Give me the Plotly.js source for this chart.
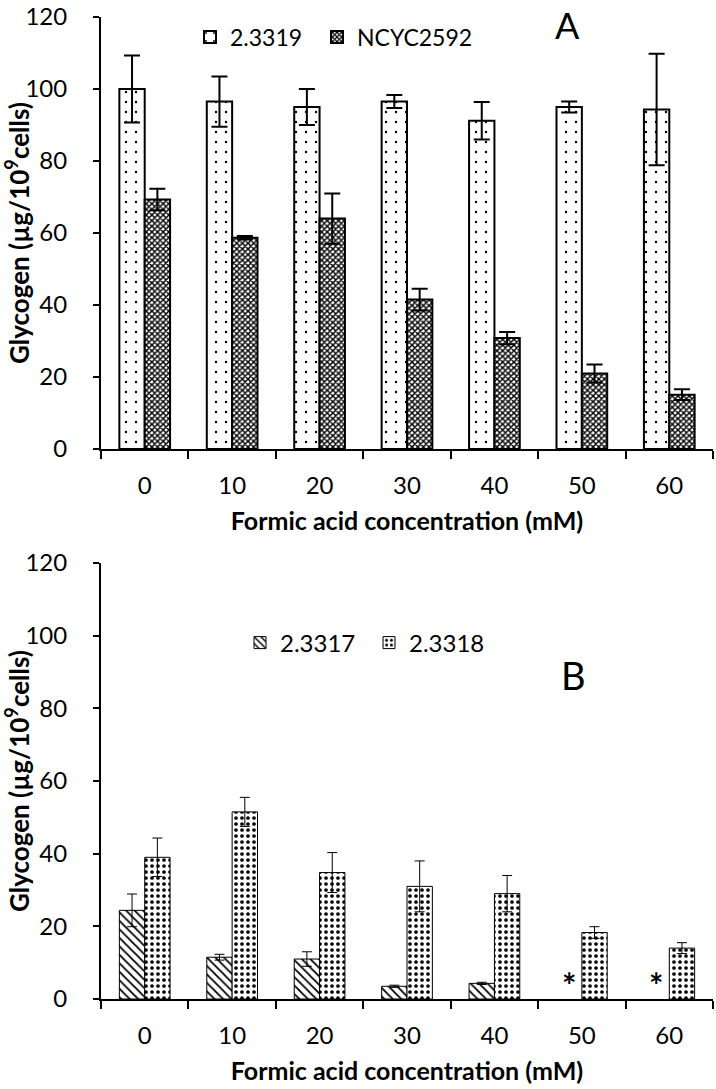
<!DOCTYPE html>
<html>
<head>
<meta charset="utf-8">
<script src="https://cdn.plot.ly/plotly-3.0.1.min.js"></script>
<style>
  html, body { margin: 0; padding: 0; background: #fff; }
  #chart { width: 716px; height: 1089px; }
</style>
</head>
<body>
<div id="chart"></div>
<script>
// ---- Data ----
const categories = ['0', '10', '20', '30', '40', '50', '60'];

// Panel A
const a_2_3319 = [100, 96.5, 95, 96.5, 91.2, 95, 94.3];
const a_2_3319_err = [9.3, 7, 5, 1.8, 5.2, 1.5, 15.5];
const a_NCYC2592 = [69.3, 58.7, 64, 41.5, 30.8, 21, 15.1];
const a_NCYC2592_err = [3, 0.5, 7, 3, 1.7, 2.5, 1.5];

// Panel B
const b_2_3317 = [24.4, 11.5, 11, 3.5, 4.3, null, null];
const b_2_3317_err = [4.5, 0.8, 2, 0.3, 0.3, null, null];
const b_2_3318 = [39, 51.5, 34.8, 31, 29, 18.3, 14];
const b_2_3318_err = [5.3, 4, 5.5, 7, 5, 1.6, 1.5];

// categories where 2.3317 was not detected (marked with *)
const missing_2_3317 = ['50', '60'];

const FONT = 'Lato, "Open Sans", sans-serif';

const traces = [
  {
    type: 'bar', name: '2.3319', x: categories, y: a_2_3319,
    xaxis: 'x', yaxis: 'y', legend: 'legend',
    marker: {
      color: 'white',
      line: { color: 'black', width: 2 },
      pattern: { shape: '.', fgcolor: 'black', bgcolor: 'white', size: 10, solidity: 0.045 }
    },
    error_y: { type: 'data', array: a_2_3319_err, visible: true, color: 'black', thickness: 2, width: 8 }
  },
  {
    type: 'bar', name: 'NCYC2592', x: categories, y: a_NCYC2592,
    xaxis: 'x', yaxis: 'y', legend: 'legend3',
    marker: {
      color: 'white',
      line: { color: 'black', width: 2 },
      pattern: { shape: 'x', fgcolor: 'black', bgcolor: 'white', size: 4, solidity: 0.6 }
    },
    error_y: { type: 'data', array: a_NCYC2592_err, visible: true, color: 'black', thickness: 2, width: 8 }
  },
  {
    type: 'bar', name: '2.3317', x: categories, y: b_2_3317,
    xaxis: 'x2', yaxis: 'y2', legend: 'legend2',
    marker: {
      color: 'white',
      line: { color: 'black', width: 1 },
      pattern: { shape: '\\', fgcolor: 'black', bgcolor: 'white', size: 6, solidity: 0.3 }
    },
    error_y: { type: 'data', array: b_2_3317_err, visible: true, color: 'black', thickness: 1, width: 5 }
  },
  {
    type: 'bar', name: '2.3318', x: categories, y: b_2_3318,
    xaxis: 'x2', yaxis: 'y2', legend: 'legend4',
    marker: {
      color: 'white',
      line: { color: 'black', width: 1 },
      pattern: { shape: '.', fgcolor: 'black', bgcolor: 'white', size: 6, solidity: 0.3 }
    },
    error_y: { type: 'data', array: b_2_3318_err, visible: true, color: 'black', thickness: 1, width: 5 }
  }
];

const L = 101, R = 3, T = 17, B = 90, W = 716, H = 1089;
const PW = W - L - R, PH = H - T - B;
const px2x = (px) => (px - L) / PW;
const px2y = (py) => (H - B - py) / PH;

const xAxisCommon = {
  type: 'category', range: [-0.5, categories.length - 0.5], autorange: false,
  showline: true, linecolor: 'black', linewidth: 2,
  ticks: 'outside', tickson: 'boundaries', ticklen: 8, tickwidth: 2, tickcolor: 'black',
  tickfont: { family: FONT, size: 24, color: 'black' },
  ticklabelstandoff: 14,
  showgrid: false, zeroline: false,
  title: { text: 'Formic acid concentration (mM)', font: { family: FONT, size: 25, color: 'black', weight: 'bold' }, standoff: 15 }
};
const yAxisCommon = {
  range: [0, 120], autorange: false, dtick: 20, tick0: 0,
  showline: true, linecolor: 'black', linewidth: 2,
  ticks: 'outside', ticklen: 6, tickwidth: 2, tickcolor: 'black',
  tickfont: { family: FONT, size: 24, color: 'black' },
  ticklabelstandoff: 21, ticklabeloverflow: 'allow',
  showgrid: false, zeroline: false,
  title: { text: 'Glycogen (µg/10<sup>9</sup>cells)', font: { family: FONT, size: 26, color: 'black', weight: 'bold' }, standoff: 5 }
};

const annotations = [
  { text: 'A', xref: 'paper', yref: 'paper', x: px2x(567), y: px2y(25), showarrow: false,
    font: { family: FONT, size: 36, color: 'black' }, xanchor: 'center', yanchor: 'middle' },
  { text: 'B', xref: 'paper', yref: 'paper', x: px2x(573), y: px2y(675), showarrow: false,
    font: { family: FONT, size: 38, color: 'black' }, xanchor: 'center', yanchor: 'middle' }
];
missing_2_3317.forEach(c => {
  annotations.push({ text: '*', xref: 'x2', yref: 'y2', x: categories.indexOf(c), y: 0, xshift: -13, yshift: 15,
    showarrow: false, font: { family: FONT, size: 34, color: 'black', weight: 'bold' },
    xanchor: 'center', yanchor: 'middle' });
});

// legend text targets (left edge of text, vertical centre), in page pixels
const legendTargets = {
  legend: [230, 37, 23],
  legend3: [357, 37, 23],
  legend2: [280, 643, 24],
  legend4: [409, 643, 24]
};

function legendAt(textPx, centerPy, size) {
  return {
    orientation: 'h', xref: 'paper', yref: 'paper', x: px2x(textPx - 40), y: px2y(centerPy),
    xanchor: 'left', yanchor: 'middle', bgcolor: 'rgba(0,0,0,0)',
    font: { family: FONT, size: size, color: 'black' }
  };
}

const layout = {
  width: W, height: H,
  margin: { l: L, r: R, t: T, b: B },
  paper_bgcolor: 'white', plot_bgcolor: 'white',
  font: { family: FONT, color: 'black' },
  barmode: 'group', bargap: 0.42, bargroupgap: 0,
  xaxis: Object.assign({}, xAxisCommon, { anchor: 'y', domain: [0, 1] }),
  yaxis: Object.assign({}, yAxisCommon, { anchor: 'x', domain: [px2y(449), 1] }),
  xaxis2: Object.assign({}, xAxisCommon, { anchor: 'y2', domain: [0, 1] }),
  yaxis2: Object.assign({}, yAxisCommon, { anchor: 'x2', domain: [0, px2y(563)] }),
  annotations: annotations,
  showlegend: true
};
for (const id in legendTargets) {
  const t = legendTargets[id];
  layout[id] = legendAt(t[0], t[1], t[2]);
}

Plotly.newPlot('chart', traces, layout, { displayModeBar: false, staticPlot: true }).then(gd => {
  // fine-tune legend placement so each entry's text starts where the reference shows it
  const upd = {};
  const root = gd.getBoundingClientRect();
  for (const id in legendTargets) {
    const g = gd.querySelector('g.' + id);
    const txt = g && g.querySelector('text.legendtext');
    if (!txt) continue;
    const r = txt.getBoundingClientRect();
    const dx = legendTargets[id][0] - (r.left - root.left);
    const dy = legendTargets[id][1] - (r.top - root.top + r.height / 2);
    upd[id + '.x'] = gd.layout[id].x + dx / PW;
    upd[id + '.y'] = gd.layout[id].y - dy / PH;
  }
  if (Object.keys(upd).length) return Plotly.relayout(gd, upd);
});
</script>
</body>
</html>
